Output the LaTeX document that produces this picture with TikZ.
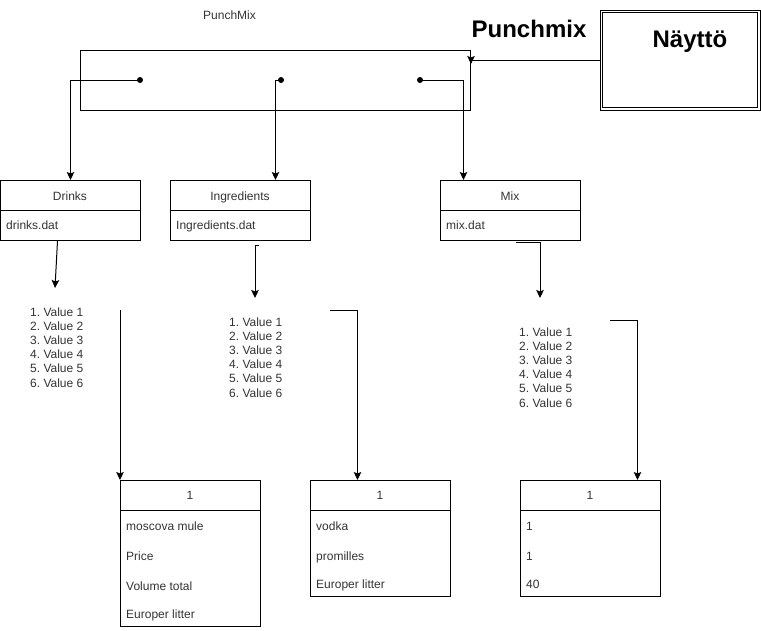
\documentclass[tikz,border=0pt]{standalone}
\usepackage{fontspec}
\setmainfont{Liberation Sans}
\usetikzlibrary{arrows.meta,calc}
\frenchspacing
\begin{document}
\begin{tikzpicture}[x=1pt,y=-1pt,
  box/.style={draw,line width=1pt,inner sep=0pt,anchor=north west},
  txt/.style={inner sep=0pt,anchor=base west,text=black!80,font=\fontsize{12}{14}\selectfont},
  ctxt/.style={inner sep=0pt,anchor=base,text=black!80,font=\fontsize{12}{14}\selectfont},
  big/.style={inner sep=0pt,anchor=base,font=\fontsize{24}{28}\selectfont\bfseries},
  dot/.style={circle,fill=black,inner sep=0pt,minimum size=6pt},
  arr/.style={line width=1pt,-{Stealth[length=8pt,width=7.5pt,inset=1.5pt]}},
  ln/.style={line width=1pt}]
\useasboundingbox (0,0) rectangle (761,630);
% titles
\node[ctxt] (ttl) at (229.5,19.5) {PunchMix};
\node[big] (pm) at (529,37) {Punchmix};
% main frame
\node[box,minimum width=390pt,minimum height=60pt] (main) at (80,50) {};
\node[dot] (d1) at (140,80) {};
\node[dot] (d2) at (281,80) {};
\node[dot] (d3) at (420,80) {};
% Nayttö
\node[draw,line width=1pt,minimum width=160pt,minimum height=100pt,inner sep=0pt] (nay) at (680,60) {};
\draw[ln] ([shift={(3,3)}]nay.north west) rectangle ([shift={(-3,-3)}]nay.south east);
\node[big] (nayt) at (690,47) {Näyttö};
\draw[arr] (nay.west) -| ($(main.north east)+(0,14)$);
% class boxes
\node[box,minimum width=140pt,minimum height=60pt] (drinks) at (0,180) {};
\node[box,minimum width=140pt,minimum height=60pt] (ing) at (170,180) {};
\node[box,minimum width=140pt,minimum height=60pt] (mix) at (440,180) {};
\foreach \b in {drinks,ing,mix}{
  \draw[ln] ([yshift=-30pt]\b.north west) -- ([yshift=-30pt]\b.north east);
}
\node[ctxt] (drinksT) at (70,200) {Drinks};
\node[txt] (drinksF) at (6,229.5) {drinks.dat};
\node[ctxt] (ingT) at (240,200) {Ingredients};
\node[txt] (ingF) at (176,229.5) {Ingredients.dat};
\node[ctxt] (mixT) at (510,200) {Mix};
\node[txt] (mixF) at (446,229.5) {mix.dat};
% main -> boxes
\draw[arr] (d1.center) -| (drinks.north);
\draw[arr] (d2.center) -| ([xshift=35pt]ing.north);
\draw[arr] (d3.center) -| ([xshift=-47pt]mix.north);
% lists
\foreach \i in {1,...,6}{
  \node[txt] (la\i) at (30,{316.5+14.1*(\i-1)}) {\i. Value \i};
  \node[txt] (lb\i) at (229,{326.5+14.1*(\i-1)}) {\i. Value \i};
  \node[txt] (lc\i) at (519,{336.5+14.1*(\i-1)}) {\i. Value \i};
}
\coordinate (c1) at (55,288);
\coordinate (c2) at (255,298);
\coordinate (c3) at (540,298);
\draw[arr] ([xshift=-13pt]drinks.south) -- (c1);
\draw[arr] ($(ing.south)+(18,4)$) -| (c2);
\draw[arr] ($(mix.south)+(5,1)$) -| (c3);
% bottom tables
\node[box,minimum width=140pt,minimum height=146pt] (t1) at (120,480) {};
\node[box,minimum width=140pt,minimum height=116pt] (t2) at (310,480) {};
\node[box,minimum width=140pt,minimum height=116pt] (t3) at (520,480) {};
\foreach \b in {t1,t2,t3}{
  \draw[ln] ([yshift=-30pt]\b.north west) -- ([yshift=-30pt]\b.north east);
}
\node[ctxt] (t1h) at (190,499.5) {1};
\node[ctxt] (t2h) at (380,499.5) {1};
\node[ctxt] (t3h) at (590,499.5) {1};
\node[txt] (t1a) at (126,530.5) {moscova mule};
\node[txt] (t1b) at (126,560.5) {Price};
\node[txt] (t1c) at (126,590.5) {Volume total};
\node[txt] (t1d) at (126,618.5) {Europer litter};
\node[txt] (t2a) at (316,530.5) {vodka};
\node[txt] (t2b) at (316,560.5) {promilles};
\node[txt] (t2c) at (316,588.5) {Europer litter};
\node[txt] (t3a) at (526,530.5) {1};
\node[txt] (t3b) at (526,560.5) {1};
\node[txt] (t3c) at (526,588.5) {40};
% list -> tables
\coordinate (s1) at (120,310);
\coordinate (s2) at (330,310);
\coordinate (s3) at (610,320);
\draw[arr] (s1) -- (t1.north west);
\draw[arr] (s2) -| ([xshift=-23pt]t2.north);
\draw[arr] (s3) -| ([xshift=47pt]t3.north);
\end{tikzpicture}
\end{document}
